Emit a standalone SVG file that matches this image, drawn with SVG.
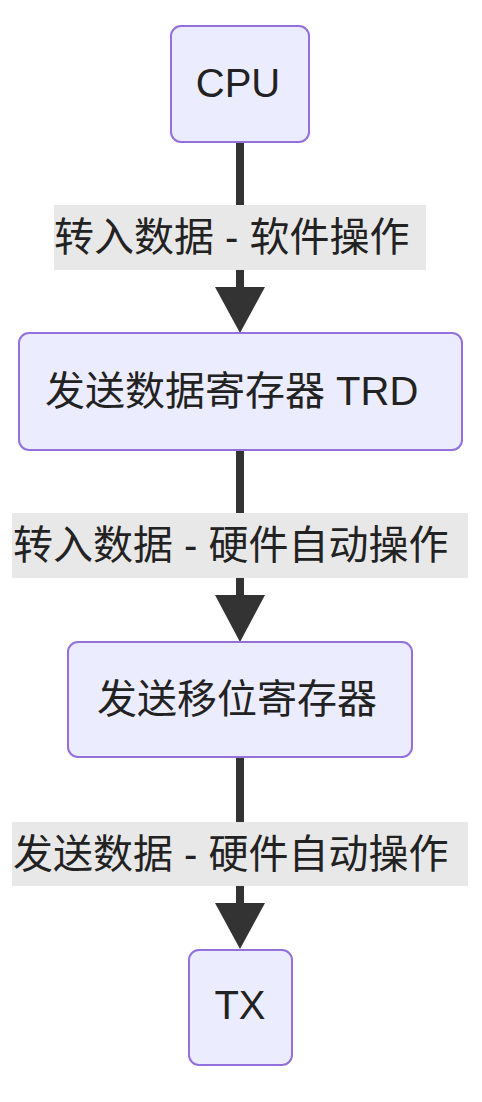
<svg xmlns="http://www.w3.org/2000/svg" width="482" height="1102" viewBox="0 0 482 1102">
<style>
.node rect{fill:#ECECFF;stroke:#9370DB;stroke-width:2}
.t{font-family:"Liberation Sans","Noto Sans CJK SC",sans-serif;font-size:40px;fill:#222}
.edge{stroke:#333;stroke-width:8;fill:none}
.lbl{fill:#e8e8e8}
.head{fill:#333}
</style>
<rect width="482" height="1102" fill="#ffffff"/>
<g id="connectors">
<line class="edge" x1="240" y1="142" x2="240" y2="290"/>
<polygon class="head" points="215,287 265,287 240,333"/>
<rect class="lbl" x="54" y="205" width="372" height="65"/>
<text class="t" x="54" y="251">转入数据 - 软件操作</text>
<line class="edge" x1="240" y1="450" x2="240" y2="598"/>
<polygon class="head" points="215,595 265,595 240,642"/>
<rect class="lbl" x="12" y="513" width="456" height="65"/>
<text class="t" x="13" y="559">转入数据 - 硬件自动操作</text>
<line class="edge" x1="240" y1="757" x2="240" y2="906"/>
<polygon class="head" points="215,903 265,903 240,949"/>
<rect class="lbl" x="12" y="822" width="456" height="64"/>
<text class="t" x="13" y="868">发送数据 - 硬件自动操作</text>
</g>
<g id="cpu" class="node">
<rect x="171" y="26" width="138" height="116" rx="10"/>
<text class="t" x="238" y="97" text-anchor="middle">CPU</text>
</g>
<g id="trd" class="node">
<rect x="19" y="333" width="443" height="117" rx="10"/>
<text class="t" x="45" y="405">发送数据寄存器 TRD</text>
</g>
<g id="shift" class="node">
<rect x="68" y="642" width="344" height="115" rx="10"/>
<text class="t" x="97" y="713">发送移位寄存器</text>
</g>
<g id="tx" class="node">
<rect x="189" y="950" width="103" height="115" rx="10"/>
<text class="t" x="240" y="1019" text-anchor="middle">TX</text>
</g>
</svg>
